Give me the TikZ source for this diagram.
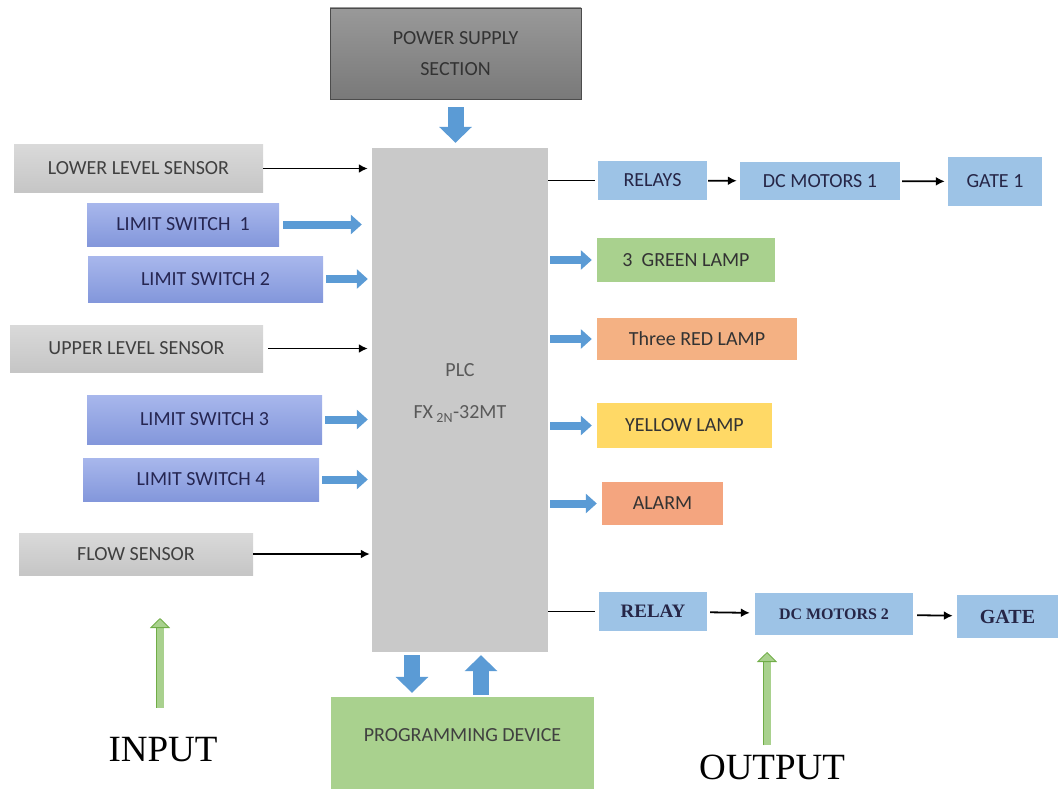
\documentclass[tikz,border=0pt]{standalone}
\usepackage{fontspec}
\setmainfont{Carlito}
\newfontfamily\timesfont{Liberation Serif}
\usepackage{tikz}
\usetikzlibrary{positioning}
\usetikzlibrary{arrows.meta}
\definecolor{plcgray}{HTML}{C9C9C9}
\definecolor{sensgray}{HTML}{D0D0D0}
\definecolor{lstop}{HTML}{A8B7EC}
\definecolor{lsbot}{HTML}{8397DB}
\definecolor{relblue}{HTML}{9DC3E6}
\definecolor{lampgreen}{HTML}{A9D18E}
\definecolor{lampred}{HTML}{F4B183}
\definecolor{lampyellow}{HTML}{FFD966}
\definecolor{alarmred}{HTML}{F4A57F}
\definecolor{arrblue}{HTML}{5B9BD5}
\definecolor{arrgreen}{HTML}{70AD47}
\tikzset{
  sz/.style 2 args={minimum width=#1pt,minimum height=#2pt},
  boxfont/.style={font=\fontsize{20}{24}\selectfont},
  blk/.style={rectangle,inner sep=0,boxfont},
  darkbox/.style={blk,top color=gray!80,bottom color=gray!95!black,draw=gray!60!black,text=black!80},
  plcbox/.style={blk,fill=plcgray,text=black!65},
  graybox/.style={blk,top color=sensgray!80,bottom color=sensgray!95!black,text=black!75},
  lsbox/.style={blk,top color=lstop,bottom color=lsbot,text=blue!20!black!85},
  relbox/.style={blk,fill=relblue,text=blue!15!black!85},
  relbold/.style={relbox,font=\timesfont\bfseries\fontsize{19}{22}\selectfont},
  lampbox/.style={blk,fill=#1,text=black!80},
  bigtext/.style={inner sep=0,font=\timesfont\fontsize{37}{40}\selectfont},
  thinarr/.style={draw=black,line width=1.8pt,-{Latex[length=9pt,width=9pt]}},
  thinline/.style={draw=black,line width=1.8pt},
  bluearr/.style={draw=arrblue,line width=8pt,-{Triangle[length=11pt,width=19pt]}},
  bigarr/.style={draw=arrblue,line width=16pt,-{Triangle[length=16pt,width=32pt]}},
  greenarr/.style={draw=arrgreen,line width=0.8pt,double=lampgreen,double distance=7pt,
    -{Triangle[length=10pt,width=20pt,fill=lampgreen,line width=0.8pt]}}
}
\begin{document}
\begin{tikzpicture}[x=1pt,y=-1pt]
\useasboundingbox (0,0) rectangle (1060,789);
% supply and controller
\node[darkbox,sz={251}{91},align=center] (power) at (455.5,53.5) {POWER SUPPLY\\[7pt]SECTION};
\node[plcbox,sz={176}{504},
  label={[boxfont,align=center,text=black!65,yshift=7pt]center:PLC\\[18pt]FX\,\textsubscript{2N}-32MT}] (plc) at (460,400) {};
\node[lampbox=lampgreen,sz={263}{92},
  label={[boxfont,text=black!75,yshift=8pt]center:PROGRAMMING DEVICE}] (prog) at (462.5,743) {};
\draw[bigarr,shorten <=8pt,shorten >=5pt] (power.south) -- (power.south |- plc.north);
\draw[bigarr,shorten <=3pt,shorten >=4pt] ([xshift=-48pt]plc.south) -- ([xshift=-48pt]plc.south |- prog.north);
\draw[bigarr,shorten <=2pt,shorten >=3pt] ([xshift=21pt]plc.south |- prog.north) -- ([xshift=21pt]plc.south);
% inputs
\node[graybox,sz={249}{47}] (lls) at (138.5,168.5) {LOWER LEVEL SENSOR};
\node[lsbox,sz={192}{43}] (ls1) at (183,224.5) {LIMIT SWITCH\ \ 1};
\node[lsbox,sz={235}{46}] (ls2) at (205.5,279) {LIMIT SWITCH 2};
\node[graybox,sz={253}{47}] (uls) at (136.5,348.5) {UPPER LEVEL SENSOR};
\node[lsbox,sz={235}{49}] (ls3) at (204.5,419.5) {LIMIT SWITCH 3};
\node[lsbox,sz={236}{43}] (ls4) at (201,479.5) {LIMIT SWITCH 4};
\node[graybox,sz={234}{42}] (flow) at (136,554) {FLOW SENSOR};
\draw[thinarr,shorten >=4pt] (lls.east) -- (lls.east -| plc.west);
\draw[thinarr,shorten <=5pt,shorten >=4pt] (uls.east) -- (uls.east -| plc.west);
\draw[thinarr,shorten >=2pt] (flow.east) -- (flow.east -| plc.west);
\draw[bluearr,shorten <=4pt,shorten >=10pt] (ls1.east) -- (ls1.east -| plc.west);
\foreach \s in {ls2,ls3,ls4}
  \draw[bluearr,shorten <=3pt,shorten >=4pt] (\s.east) -- (\s.east -| plc.west);
% outputs
\node[relbox,sz={109}{39}] (relays) at (652.5,180.5) {RELAYS};
\node[relbox,sz={160}{38}] (dcm1) at (820,181) {DC MOTORS 1};
\node[relbox,sz={94}{49}] (gate1) at (995,181.5) {GATE 1};
\node[lampbox=lampgreen,sz={178}{44}] (green) at (686,260) {3\ \ GREEN LAMP};
\node[lampbox=lampred,sz={200}{42}] (red) at (697,339) {Three RED LAMP};
\node[lampbox=lampyellow,sz={175}{45}] (yellow) at (684.5,425.5) {YELLOW LAMP};
\node[lampbox=alarmred,sz={121}{43}] (alarm) at (662.5,503.5) {ALARM};
\node[relbold,sz={108}{39}] (relay) at (653,611.5) {RELAY};
\node[relbold,sz={158}{42},font=\timesfont\bfseries\fontsize{16}{18}\selectfont] (dcm2) at (834,614) {DC MOTORS 2};
\node[relbold,sz={101}{43},font=\timesfont\bfseries\fontsize{20}{22}\selectfont] (gate) at (1007.5,616.5) {GATE};
\draw[thinline,shorten >=3pt] (plc.east |- relays.west) -- (relays.west);
\draw[thinarr,shorten <=1pt,shorten >=3pt] (relays) -- (dcm1);
\draw[thinarr,shorten <=2pt,shorten >=3pt] (dcm1) -- (gate1);
\draw[thinline,shorten >=4pt] (plc.east |- relay.west) -- (relay.west);
\draw[thinarr,shorten <=3pt,shorten >=5pt] (relay) -- (dcm2);
\draw[thinarr,shorten <=4pt,shorten >=4pt] (dcm2) -- (gate);
\foreach \o in {green,red,yellow,alarm}
  \draw[bluearr,shorten <=2pt,shorten >=5pt] (plc.east |- \o.west) -- (\o.west);
% labels
\node[bigtext] (inp) at (163,750) {INPUT};
\node[bigtext] (outp) at (772,767) {OUTPUT};
\coordinate (intip) at (160,618);
\coordinate (outtip) at (767,652);
\draw[greenarr,shorten <=30pt] (intip |- inp.north) -- (intip);
\draw[greenarr,shorten <=9pt] (outtip |- outp.north) -- (outtip);
\end{tikzpicture}
\end{document}
